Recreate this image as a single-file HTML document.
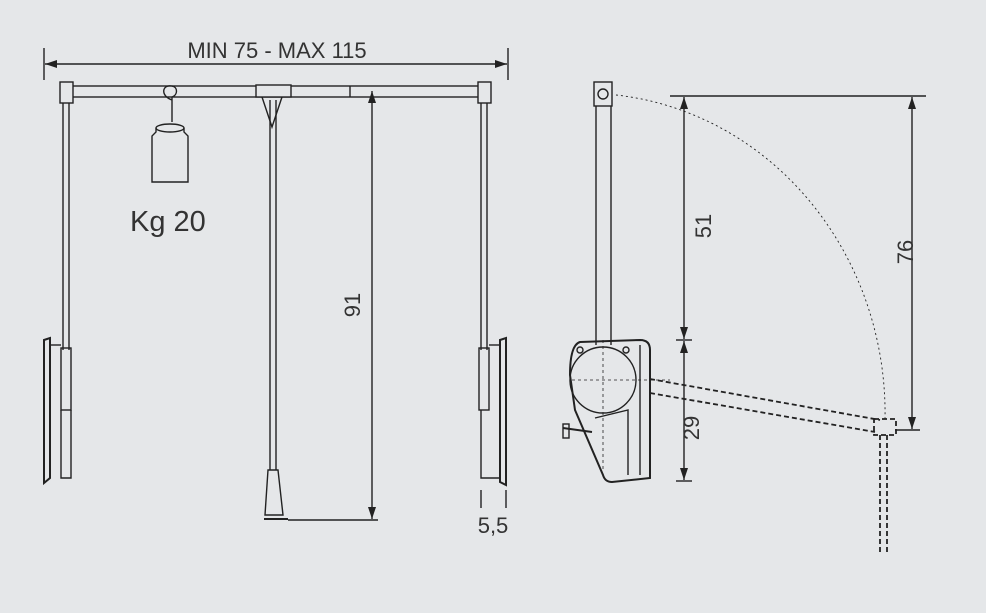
<!DOCTYPE html>
<html><head><style>
body{margin:0;background:#e5e7e9;}
svg{display:block}
text{font-family:"Liberation Sans",sans-serif;fill:#333}
</style></head><body>
<svg width="986" height="613" viewBox="0 0 986 613" xmlns="http://www.w3.org/2000/svg">
<rect width="986" height="613" fill="#e5e7e9"/>
<defs>
<marker id="a" viewBox="0 0 12 8" refX="12" refY="4" markerWidth="12" markerHeight="8" orient="auto-start-reverse" markerUnits="userSpaceOnUse"><path d="M0,0L12,4L0,8z" fill="#222"/></marker>
</defs>
<g stroke="#222" stroke-width="1.4" fill="none">
<line x1="44" y1="48" x2="44" y2="80"/><line x1="508" y1="48" x2="508" y2="80"/>
<line x1="45" y1="64" x2="507" y2="64" marker-start="url(#a)" marker-end="url(#a)"/>
<rect x="70" y="86" width="410" height="11" fill="#e5e7e9"/>
<rect x="60" y="82" width="13" height="21" fill="#e5e7e9"/>
<rect x="478" y="82" width="13" height="21" fill="#e5e7e9"/>
<line x1="350" y1="86" x2="350" y2="97"/>
<rect x="256" y="85" width="35" height="12" fill="#e5e7e9"/>
<path d="M262,97 L272,127 L282,97"/>
<line x1="270" y1="100" x2="270" y2="470"/><line x1="276" y1="100" x2="276" y2="470"/>
<path d="M268,470 L278,470 L283,515 L265,515 Z" fill="#e5e7e9"/>
<line x1="264" y1="519" x2="288" y2="519" stroke-width="2"/>
<path d="M172,100 C160,96 162,84 172,86 C178,87 178,95 172,97 L172,122"/>
<ellipse cx="170" cy="128" rx="14" ry="4"/>
<path d="M156,128 L156,132 L152,136 L152,182 L188,182 L188,136 L184,132 L184,128"/>
<line x1="63" y1="103" x2="63" y2="350"/><line x1="69" y1="103" x2="69" y2="350"/>
<rect x="61" y="348" width="10" height="62"/>
<path d="M61,410 L61,478 L71,478 L71,410"/>
<line x1="50" y1="345" x2="61" y2="345"/>
<path d="M44,340 L50,338 L50,478 L44,483 Z" stroke-width="2"/>
<line x1="481" y1="103" x2="481" y2="350"/><line x1="487" y1="103" x2="487" y2="350"/>
<rect x="479" y="348" width="10" height="62"/>
<path d="M481,410 L481,478 L500,478"/>
<line x1="489" y1="345" x2="500" y2="345"/>
<path d="M500,340 L506,338 L506,485 L500,482 Z" stroke-width="2"/>
<line x1="481" y1="490" x2="481" y2="508"/><line x1="506" y1="490" x2="506" y2="508"/>
<line x1="372" y1="91" x2="372" y2="519" marker-start="url(#a)" marker-end="url(#a)"/>
<line x1="288" y1="520" x2="378" y2="520"/>
<rect x="594" y="82" width="18" height="24" fill="#e5e7e9"/>
<circle cx="603" cy="94" r="5"/>
<line x1="596" y1="106" x2="596" y2="345"/><line x1="611" y1="106" x2="611" y2="345"/>
<path d="M580,342 L640,340 Q650,340 650,350 L650,478 L612,482 Q605,482 603,475 L575,410 L570,375 Q570,345 580,342 Z" stroke-width="2"/>
<line x1="640" y1="345" x2="640" y2="475"/>
<circle cx="603" cy="380" r="33"/>
<circle cx="580" cy="350" r="3"/><circle cx="626" cy="350" r="3"/>
<path d="M595,418 L628,410 L628,475"/>
<path d="M563,428 L592,432" stroke-width="2"/><rect x="563" y="424" width="6" height="14"/>
<g stroke-dasharray="3,3" stroke-width="0.8"><line x1="603" y1="340" x2="603" y2="470"/><line x1="572" y1="380" x2="670" y2="380"/></g>
<path d="M616,95 A 300 320 0 0 1 885,420" stroke-dasharray="2,3" stroke-width="0.9"/>
<g stroke-dasharray="5,3" stroke-width="1.8">
<line x1="650" y1="379" x2="880" y2="420"/><line x1="650" y1="393" x2="875" y2="432"/>
<rect x="874" y="419" width="22" height="16"/>
<line x1="880" y1="435" x2="880" y2="553"/><line x1="887" y1="435" x2="887" y2="553"/>
</g>
<line x1="670" y1="96" x2="926" y2="96"/>
<line x1="684" y1="97" x2="684" y2="339" marker-start="url(#a)" marker-end="url(#a)"/>
<line x1="684" y1="341" x2="684" y2="480" marker-start="url(#a)" marker-end="url(#a)"/>
<line x1="676" y1="340" x2="692" y2="340"/><line x1="676" y1="481" x2="692" y2="481"/>
<line x1="912" y1="97" x2="912" y2="429" marker-start="url(#a)" marker-end="url(#a)"/>
<line x1="895" y1="430" x2="920" y2="430"/>
</g>
<text x="277" y="58" font-size="22" text-anchor="middle">MIN 75 - MAX 115</text>
<text x="130" y="231" font-size="29">Kg 20</text>
<text x="493" y="533" font-size="22" text-anchor="middle">5,5</text>
<text transform="translate(360,305) rotate(-90)" font-size="22" text-anchor="middle">91</text>
<text transform="translate(711,226) rotate(-90)" font-size="22" text-anchor="middle">51</text>
<text transform="translate(699,428) rotate(-90)" font-size="22" text-anchor="middle">29</text>
<text transform="translate(913,252) rotate(-90)" font-size="22" text-anchor="middle">76</text>
</svg>
</body></html>
